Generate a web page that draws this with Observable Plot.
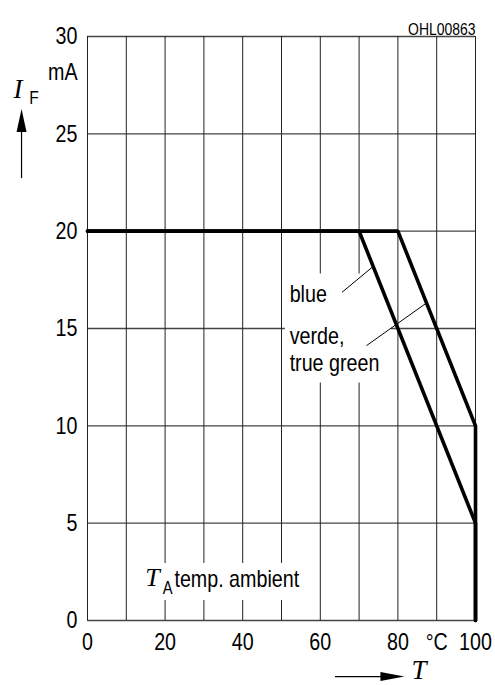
<!DOCTYPE html>
<html>
<head>
<meta charset="utf-8">
<script src="https://cdn.jsdelivr.net/npm/d3@7"></script>
<script src="https://cdn.jsdelivr.net/npm/@observablehq/plot@0.6"></script>
<style>
  html, body { margin: 0; padding: 0; background: #fff; }
</style>
</head>
<body>
<script>
// Data (T in °C, I_F in mA)
const blueT  = [0, 70, 100, 100];
const blueI  = [20, 20, 5, 0];
const greenT = [0, 80, 100, 100];
const greenI = [20, 20, 10, 0];

const xGrid = [0, 10, 20, 30, 40, 50, 60, 70, 80, 90, 100];
const yGrid = [0, 5, 10, 15, 20, 25, 30];
const xTicks = [0, 20, 40, 60, 80, 90, 100];
const xTickLabels = ["0", "20", "40", "60", "80", "°C", "100"];
const yTicks = [0, 5, 10, 15, 20, 25, 30];
const yTickLabels = ["0", "5", "10", "15", "20", "25", "30"];

const seriesNames = ["blue", "verde, true green"];

const curves = [
  ...blueT.map((t, i) => ({series: seriesNames[0], T: t, I: blueI[i]})),
  ...greenT.map((t, i) => ({series: seriesNames[1], T: t, I: greenI[i]}))
];

const FONT = "'Liberation Sans', Arial, sans-serif";
const SERIF = "'Liberation Serif', 'Times New Roman', serif";

const chart = Plot.plot({
  width: 495,
  height: 685,
  marginLeft: 87,
  marginRight: 20,
  marginTop: 36,
  marginBottom: 65,
  x: {domain: [0, 100]},
  y: {domain: [0, 30]},
  style: {fontFamily: FONT, background: "#fff", color: "#000"},
  marks: [
    // grid
    Plot.ruleY(yGrid, {x1: 0, x2: 100, stroke: "#444", strokeWidth: 1.4}),
    Plot.ruleX(xGrid, {y1: 0, y2: 30, stroke: "#222", strokeWidth: 1}),
    // label backgrounds (gaps in grid)
    Plot.rect([{x1: 51, x2: 78.3, y1: 12.2, y2: 17.8}, {x1: 14, x2: 55.5, y1: 1.03, y2: 2.93}],
      {x1: "x1", x2: "x2", y1: "y1", y2: "y2", fill: "#fff"}),
    // axes
    Plot.axisX({ticks: xTicks, tickSize: 0, tickPadding: 12, fontSize: 24,
      tickFormat: d => xTickLabels[xTicks.indexOf(d)], label: null}),
    Plot.axisY({ticks: yTicks, tickSize: 0, tickPadding: 10, fontSize: 24,
      tickFormat: d => yTickLabels[yTicks.indexOf(d)], label: null}),
    Plot.text(["mA"], {frameAnchor: "left", y: 28.16, dx: -10, textAnchor: "end", fontSize: 24}),
    // y axis label I_F with arrow
    Plot.text(["I"], {x: -19.1, y: 27.3, textAnchor: "start", fontSize: 27, fontFamily: SERIF, fontStyle: "italic", className: "serif"}),
    Plot.text(["F"], {x: -15.0, y: 26.85, textAnchor: "start", fontSize: 19}),
    Plot.ruleX([-17], {y1: 22.7, y2: 25.3, stroke: "#000", strokeWidth: 1.2}),
    Plot.vector([0], {x: -17, y: 25.1, length: 23, r: 5, shape: "spike", rotate: 0, anchor: "start", fill: "#000", stroke: "none"}),
    // x axis label T with arrow
    Plot.ruleY([-2.88], {x1: 63.9, x2: 75.8, stroke: "#000", strokeWidth: 1.2}),
    Plot.vector([0], {x: 75.5, y: -2.88, length: 24, r: 4.5, shape: "spike", rotate: 90, anchor: "start", fill: "#000", stroke: "none"}),
    Plot.text(["T"], {x: 83.5, y: -2.55, textAnchor: "start", fontSize: 27, fontFamily: SERIF, fontStyle: "italic", className: "serif"}),
    // code
    Plot.text(["OHL00863"], {frameAnchor: "top-right", dy: -14, textAnchor: "end", fontSize: 17}),
    // T_A label
    Plot.text(["T"], {x: 14.9, y: 2.22, textAnchor: "start", fontSize: 26, fontFamily: SERIF, fontStyle: "italic", className: "serif"}),
    Plot.text(["A"], {x: 19.4, y: 1.66, textAnchor: "start", fontSize: 18}),
    Plot.text(["temp. ambient"], {x: 22.4, y: 2.1, textAnchor: "start", fontSize: 24}),
    // series labels
    Plot.text(["blue"], {x: 52.1, y: 16.74, textAnchor: "start", fontSize: 24}),
    Plot.text(["verde,"], {x: 52.1, y: 14.59, textAnchor: "start", fontSize: 24}),
    Plot.text(["true green"], {x: 52.1, y: 13.2, textAnchor: "start", fontSize: 24}),
    // leader lines
    Plot.link([{x1: 65.6, y1: 16.86, x2: 73.4, y2: 18.15}, {x1: 71.9, y1: 14.12, x2: 87.3, y2: 16.3}],
      {x1: "x1", y1: "y1", x2: "x2", y2: "y2", stroke: "#000", strokeWidth: 1}),
    // curves
    Plot.line(curves, {x: "T", y: "I", z: "series", stroke: "#000", strokeWidth: 3.6, strokeLinejoin: "miter"})
  ]
});

document.body.appendChild(chart);

// Condense sans-serif text to imitate the narrow typeface of the original
d3.select(chart).selectAll("text").each(function () {
  if (this.closest(".serif")) return;
  const len = this.getComputedTextLength();
  if (len > 0) {
    this.setAttribute("textLength", (len * 0.82).toFixed(2));
    this.setAttribute("lengthAdjust", "spacingAndGlyphs");
  }
});
</script>
</body>
</html>
